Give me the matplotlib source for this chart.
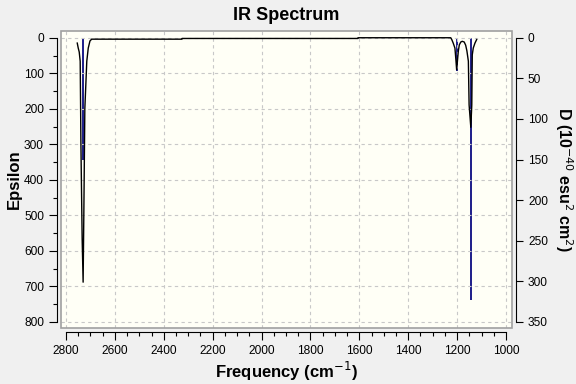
import matplotlib
matplotlib.use("Agg")
import matplotlib.pyplot as plt
from matplotlib.patches import Rectangle
from matplotlib.ticker import MultipleLocator

# broadened spectrum (cm-1, epsilon)
freq = [2754, 2750, 2746, 2742, 2739, 2734, 2730, 2727, 2723, 2715, 2709,
        2702, 2695, 2326, 2325, 1606, 1605, 1226, 1222, 1216, 1209, 1205,
        1202, 1195, 1191, 1185, 1179, 1171, 1165, 1160, 1154, 1151, 1144,
        1140, 1138, 1134, 1127, 1120]
eps = [15, 29, 40, 66, 300, 565, 688, 490, 200, 66, 29,
       9, 4, 4, 2, 2, 0, 0, 5, 15, 29, 62,
       90, 37, 20, 12, 10, 12, 21, 37, 66, 189, 252,
       189, 48, 29, 15, 5]

# stick intensities (cm-1, D in 1e-40 esu^2 cm^2)
stick_freq = [2729, 2593, 1199, 1144]
stick_d = [151, 1, 41, 323]

x_ticks = [2800, 2600, 2400, 2200, 2000, 1800, 1600, 1400, 1200, 1000]
eps_ticks = [0, 100, 200, 300, 400, 500, 600, 700, 800]
d_ticks = [0, 50, 100, 150, 200, 250, 300, 350]

plt.rcParams["font.family"] = ["Liberation Sans", "DejaVu Sans"]

fig = plt.figure(figsize=(5.76, 3.84), dpi=100)
fig.patch.set_facecolor("#F0F0F0")
ax = fig.add_axes([61 / 576, 1 - 328 / 384, 451 / 576, 297 / 384])
ax2 = ax.twinx()

# sticks go underneath the curve
ax.set_zorder(ax2.get_zorder() + 1)
ax.patch.set_visible(False)
ax2.patch.set_visible(True)
ax2.patch.set_facecolor("#FFFFF6")

ax.set_xlim(2820.5, 975.5)
ax.set_ylim(817, -19)
ax2.set_ylim(817 * 0.4375, -19 * 0.4375)

ax.plot(freq, eps, color="black", linewidth=1.0, zorder=5)
ax2.vlines(stick_freq, 0, stick_d, color="#1C1C8A", linewidth=1.4)

ax.grid(True, color="#C8C8C8", linestyle=(0, (3, 3)), linewidth=0.8)
ax.set_axisbelow(True)

ax.set_xticks(x_ticks)
ax.set_yticks(eps_ticks)
ax2.set_yticks(d_ticks)
ax.xaxis.set_minor_locator(MultipleLocator(50))
ax.yaxis.set_minor_locator(MultipleLocator(50))

for s in ["top", "right"]:
    ax.spines[s].set_visible(False)
for s in ["top", "left", "bottom"]:
    ax2.spines[s].set_visible(False)

ax.spines["left"].set_position(("outward", 3))
ax.spines["left"].set_bounds(0, 800)
ax.spines["bottom"].set_position(("outward", 3))
ax.spines["bottom"].set_bounds(2800, 1000)
ax2.spines["right"].set_position(("outward", 3))
ax2.spines["right"].set_bounds(0, 350)

ax.tick_params(axis="both", which="major", length=5.8, width=0.8, labelsize=8.6, pad=3.5)
ax.tick_params(axis="both", which="minor", length=2.9, width=0.8)
ax2.tick_params(axis="y", which="major", length=5, width=0.8, labelsize=8.6, pad=3.5)

# grey frame around the plot area
ax.add_patch(Rectangle((0, 0), 1, 1, transform=ax.transAxes, fill=False,
                       edgecolor="#A0A0A0", linewidth=1.2, clip_on=False, zorder=10))

ax.set_title("IR Spectrum", fontsize=13, fontweight="bold", pad=8)
ax.set_xlabel("Frequency (cm$^{-1}$)", fontsize=12, fontweight="bold", labelpad=2)
ax.set_ylabel("Epsilon", fontsize=12, fontweight="bold", va="center")
ax.yaxis.set_label_coords(-0.104, 0.5)
ax2.set_ylabel("D (10$^{-40}$ esu$^{2}$ cm$^{2}$)", fontsize=11.5, fontweight="bold",
               rotation=270, va="center", ha="center")
ax2.yaxis.set_label_coords(1.115, 0.5)

fig.savefig("out.png", dpi=100, facecolor=fig.get_facecolor())
